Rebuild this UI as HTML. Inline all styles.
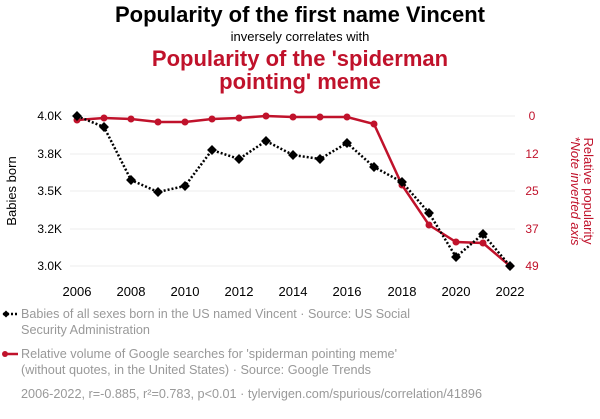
<!DOCTYPE html>
<html><head><meta charset="utf-8"><style>
body{margin:0;background:#fff;width:600px;height:414px;overflow:hidden;font-family:"Liberation Sans",sans-serif;}
</style></head><body>
<svg width="600" height="414" xmlns="http://www.w3.org/2000/svg" font-family="Liberation Sans, sans-serif">
<text x="300" y="22" text-anchor="middle" font-size="22" font-weight="bold" fill="#000">Popularity of the first name Vincent</text>
<text x="300" y="41" text-anchor="middle" font-size="13" fill="#000">inversely correlates with</text>
<text x="300" y="66" text-anchor="middle" font-size="22" font-weight="bold" fill="#c0122b">Popularity of the 'spiderman</text>
<text x="300" y="89" text-anchor="middle" font-size="22" font-weight="bold" fill="#c0122b">pointing' meme</text>
<g stroke="#eee" stroke-width="1">
<line x1="70" x2="515" y1="116" y2="116"/><line x1="70" x2="515" y1="154" y2="154"/>
<line x1="70" x2="515" y1="191" y2="191"/><line x1="70" x2="515" y1="229" y2="229"/>
<line x1="70" x2="515" y1="266" y2="266"/>
</g>
<g font-size="12" fill="#000" text-anchor="end">
<text x="62" y="120">4.0K</text><text x="62" y="158">3.8K</text><text x="62" y="195">3.5K</text><text x="62" y="233">3.2K</text><text x="62" y="270">3.0K</text>
</g>
<g font-size="12" fill="#c0122b" text-anchor="middle">
<text x="532" y="120">0</text><text x="532" y="158">12</text><text x="532" y="195">25</text><text x="532" y="233">37</text><text x="532" y="270">49</text>
</g>
<text transform="translate(16,191) rotate(-90)" text-anchor="middle" font-size="13">Babies born</text>
<text transform="translate(584,191) rotate(90)" text-anchor="middle" font-size="13" fill="#c0122b">Relative popularity</text>
<text transform="translate(571,191) rotate(90)" text-anchor="middle" font-size="13" font-style="italic" fill="#c0122b">*Note inverted axis</text>
<g font-size="13" text-anchor="middle">
<text x="77" y="296">2006</text><text x="131" y="296">2008</text><text x="185" y="296">2010</text><text x="239" y="296">2012</text><text x="293" y="296">2014</text><text x="347" y="296">2016</text><text x="402" y="296">2018</text><text x="456" y="296">2020</text><text x="510" y="296">2022</text>
</g>
<polyline fill="none" stroke="#c0122b" stroke-width="2.5" points="77,120 104,118 131,119 158,122 185,122 212,119 239,118 266,116 293,117 320,117 347,117 374,124 402,185 429,225 456,242 483,243 510,266"/>
<g fill="#c0122b">
<circle cx="77" cy="120" r="3.5"/><circle cx="104" cy="118" r="3.5"/><circle cx="131" cy="119" r="3.5"/><circle cx="158" cy="122" r="3.5"/><circle cx="185" cy="122" r="3.5"/><circle cx="212" cy="119" r="3.5"/><circle cx="239" cy="118" r="3.5"/><circle cx="266" cy="116" r="3.5"/><circle cx="293" cy="117" r="3.5"/><circle cx="320" cy="117" r="3.5"/><circle cx="347" cy="117" r="3.5"/><circle cx="374" cy="124" r="3.5"/><circle cx="402" cy="185" r="3.5"/><circle cx="429" cy="225" r="3.5"/><circle cx="456" cy="242" r="3.5"/><circle cx="483" cy="243" r="3.5"/><circle cx="510" cy="266" r="3.5"/>
</g>
<polyline fill="none" stroke="#000" stroke-width="2.5" stroke-dasharray="2,2" points="77,116 104,127 131,180 158,192 185,186 212,150 239,159 266,141 293,155 320,159 347,143 374,167 402,182 429,213 456,257 483,234 510,266"/>
<g fill="#000">
<rect x="73.5" y="112.5" width="7" height="7" transform="rotate(45 77 116)"/>
<rect x="100.5" y="123.5" width="7" height="7" transform="rotate(45 104 127)"/>
<rect x="127.5" y="176.5" width="7" height="7" transform="rotate(45 131 180)"/>
<rect x="154.5" y="188.5" width="7" height="7" transform="rotate(45 158 192)"/>
<rect x="181.5" y="182.5" width="7" height="7" transform="rotate(45 185 186)"/>
<rect x="208.5" y="146.5" width="7" height="7" transform="rotate(45 212 150)"/>
<rect x="235.5" y="155.5" width="7" height="7" transform="rotate(45 239 159)"/>
<rect x="262.5" y="137.5" width="7" height="7" transform="rotate(45 266 141)"/>
<rect x="289.5" y="151.5" width="7" height="7" transform="rotate(45 293 155)"/>
<rect x="316.5" y="155.5" width="7" height="7" transform="rotate(45 320 159)"/>
<rect x="343.5" y="139.5" width="7" height="7" transform="rotate(45 347 143)"/>
<rect x="370.5" y="163.5" width="7" height="7" transform="rotate(45 374 167)"/>
<rect x="398.5" y="178.5" width="7" height="7" transform="rotate(45 402 182)"/>
<rect x="425.5" y="209.5" width="7" height="7" transform="rotate(45 429 213)"/>
<rect x="452.5" y="253.5" width="7" height="7" transform="rotate(45 456 257)"/>
<rect x="479.5" y="230.5" width="7" height="7" transform="rotate(45 483 234)"/>
<rect x="506.5" y="262.5" width="7" height="7" transform="rotate(45 510 266)"/>
</g>
<line x1="3" x2="18" y1="314" y2="314" stroke="#000" stroke-width="2.5" stroke-dasharray="2,2"/>
<rect x="3.5" y="311.5" width="5" height="5" transform="rotate(45 6 314)"/>
<g font-size="13" fill="#999">
<text x="21" y="318" textLength="389" lengthAdjust="spacingAndGlyphs">Babies of all sexes born in the US named Vincent · Source: US Social</text>
<text x="21" y="334" textLength="129" lengthAdjust="spacingAndGlyphs">Security Administration</text>
<text x="21" y="358" textLength="376" lengthAdjust="spacingAndGlyphs">Relative volume of Google searches for 'spiderman pointing meme'</text>
<text x="21" y="374" textLength="350" lengthAdjust="spacingAndGlyphs">(without quotes, in the United States) · Source: Google Trends</text>
<text x="21" y="398" textLength="461" lengthAdjust="spacingAndGlyphs">2006-2022, r=-0.885, r²=0.783, p&lt;0.01 · tylervigen.com/spurious/correlation/41896</text>
</g>
<line x1="3" x2="18" y1="354" y2="354" stroke="#c0122b" stroke-width="2.5"/>
<circle cx="5" cy="354" r="3" fill="#c0122b"/>
</svg>
</body></html>
